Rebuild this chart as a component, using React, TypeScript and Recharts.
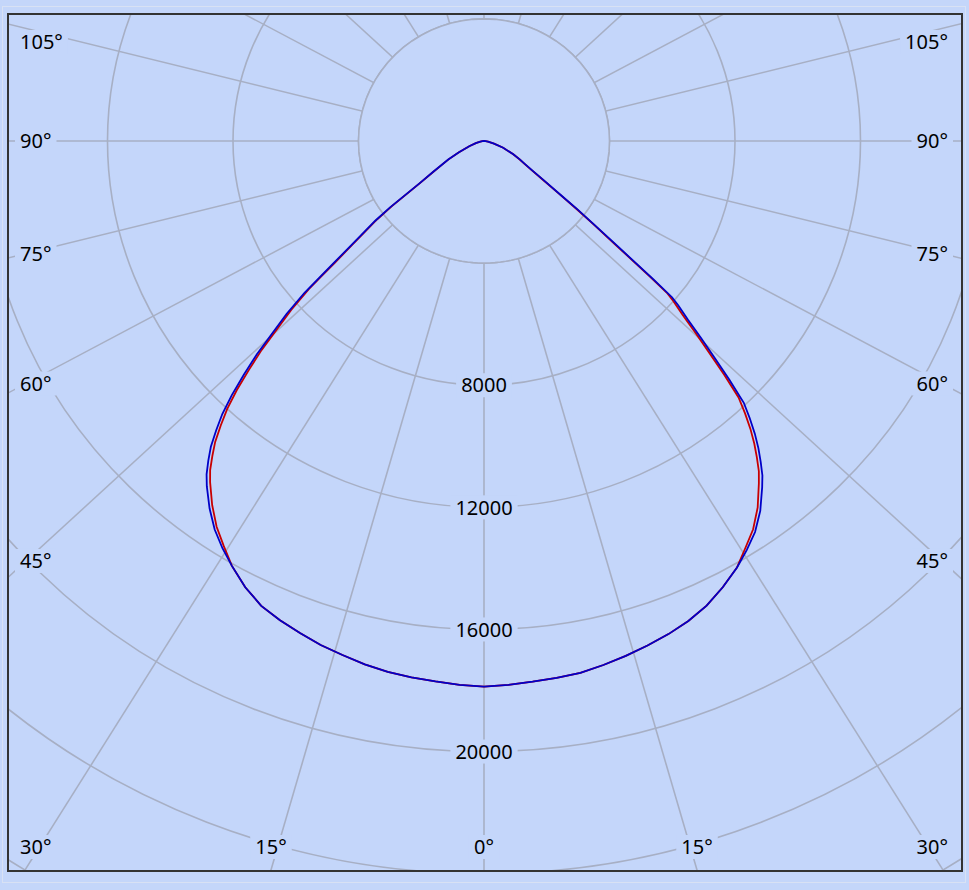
import { RadarChart, Radar, PolarGrid, PolarAngleAxis, PolarRadiusAxis } from 'recharts';

// gamma angles (deg from nadir) sampled for the lower hemisphere
const GAMMA = [
    0, 2.5, 5, 7.5, 10, 12.5, 15, 17.5, 20, 22.5, 25, 27.5, 30, 32, 34, 36, 38, 39, 40, 41, 42, 43, 44, 45, 46, 47, 48, 49,
    49.5, 50, 51, 52, 53, 54, 56, 58, 60, 62, 65, 70, 75, 80, 85, 90,
];

// intensities in cd, right half (C0 side)
const C0_BLUE = [
    17875, 17830, 17775, 17735, 17690, 17580, 17460, 17330, 17190, 17020, 16790, 16480, 16130, 15800, 15450, 14980, 14400,
    14100, 13720, 13330, 12900, 12420, 11920, 11060, 10200, 9450, 8740, 8200, 7880, 7050, 5490, 4510, 3740, 3080, 2280, 1800,
    1500, 1300, 1030, 650, 330, 130, 50, 0,
];
const C0_RED = [
    17875, 17830, 17775, 17735, 17690, 17580, 17460, 17330, 17190, 17020, 16790, 16480, 16130, 15720, 15340, 14840, 14230,
    13920, 13530, 13130, 12690, 12200, 11680, 10820, 9970, 9230, 8530, 8000, 7690, 6870, 5350, 4400, 3660, 3020, 2240, 1780,
    1480, 1290, 1030, 650, 330, 130, 50, 0,
];

// left half (C180 side)
const C180_BLUE = [
    17875, 17830, 17770, 17720, 17660, 17560, 17430, 17310, 17150, 16990, 16800, 16480, 16070, 15730, 15350, 14880, 14350,
    14050, 13670, 13270, 12760, 12230, 11570, 10820, 10070, 9200, 8470, 7580, 6930, 6380, 5520, 4860, 4340, 3700, 2480, 1930,
    1540, 1290, 880, 500, 270, 120, 50, 0,
];
const C180_RED = [
    17875, 17830, 17770, 17720, 17660, 17560, 17430, 17310, 17150, 16990, 16800, 16480, 16070, 15650, 15240, 14740, 14180,
    13870, 13470, 13060, 12540, 12000, 11340, 10590, 9850, 8990, 8270, 7400, 6800, 6220, 5400, 4760, 4260, 3640, 2440, 1900,
    1520, 1280, 880, 500, 270, 120, 50, 0,
];

// upper hemisphere, no light emitted
const UPPER_ANGLES = [
    95, 100, 105, 110, 115, 120, 125, 130, 135, 140, 145, 150, 155, 160, 165, 170, 175, 180, 185, 190, 195, 200, 205, 210,
    215, 220, 225, 230, 235, 240, 245, 250, 255, 260, 265,
];

const SPOKE_ANGLES = [0, 15, 30, 45, 60, 75, 90, 105, 120, 135, 150, 165, 180, 195, 210, 225, 240, 255, 270, 285, 300, 315, 330, 345];
const RING_VALUES = [4000, 8000, 12000, 16000, 20000, 24000, 28000, 32000];
const LABELED_RINGS = [8000, 12000, 16000, 20000];
const HOLE_CD = 4000;

type Row = { angle: number; blue: number; red: number; hole: number };

const rows: Row[] = [];
GAMMA.forEach((g, i) => rows.push({ angle: g, blue: C0_BLUE[i], red: C0_RED[i], hole: HOLE_CD }));
UPPER_ANGLES.forEach((a) => rows.push({ angle: a, blue: 0, red: 0, hole: HOLE_CD }));
for (let i = GAMMA.length - 1; i >= 1; i--) {
    rows.push({ angle: 360 - GAMMA[i], blue: C180_BLUE[i], red: C180_RED[i], hole: HOLE_CD });
}

const spokeRows = SPOKE_ANGLES.map((g) => ({ gamma: g }));

const BG = '#c4d6fa';
const GRID = '#a7afc4';
const FONT = '"Noto Sans", "DejaVu Sans", sans-serif';
const FONT_SIZE = 20;

// plot frame (inner size) and pole position inside it
const W = 952;
const H = 855;
const CX = 475;
const CY = 126;
const PAD = 80;
const R_TOP = 1004; // 32000 cd
// the source draws rings and spokes with slightly different aspect
const RING_SQUASH = 0.973;
const SPOKE_SQUASH = 0.917;

const textWidth = (s: string) =>
    s.replace('°', '').length * 11.45 + (s.includes('°') ? 8.6 : 0);

function AngleTick(props: any) {
    const a = Number(props.payload?.value);
    const rad = (a * Math.PI) / 180;
    const dx = Math.sin(rad);
    const dy = Math.cos(rad) * SPOKE_SQUASH;
    const tx = dx > 1e-6 ? (W - 19 - CX) / dx : dx < -1e-6 ? (17 - CX) / dx : Infinity;
    const ty = dy > 1e-6 ? (H - CY) / dy : dy < -1e-6 ? (0 - CY) / dy : Infinity;
    const label = `${a <= 180 ? a : 360 - a}°`;
    const w = textWidth(label);
    let x: number;
    let y: number;
    let anchor: 'start' | 'middle' | 'end';
    if (ty < tx) {
        if (dy < 0) return <g />;
        x = Math.min(Math.max(CX + dx * ty, 11 + w / 2), W - 13 - w / 2);
        y = H - 23;
        anchor = 'middle';
    } else {
        x = dx < 0 ? 11 : W - 13;
        y = Math.min(Math.max(CY + dy * tx, 27), H - 23);
        anchor = dx < 0 ? 'start' : 'end';
    }
    const yPre = CY + PAD + (y - CY) / RING_SQUASH;
    const rx = anchor === 'start' ? -5 : anchor === 'end' ? -w - 5 : -w / 2 - 5;
    return (
        <g transform={`translate(${x} ${yPre}) scale(1 ${1 / RING_SQUASH})`}>
            <rect x={rx} y={-12} width={w + 10} height={24} fill={BG} />
            <text x={0} y={0} dy="0.36em" textAnchor={anchor} fontSize={FONT_SIZE} fontFamily={FONT} fill="#000">
                {label}
            </text>
        </g>
    );
}

function RingTick(props: any) {
    const v = Number(props.payload?.value);
    if (!LABELED_RINGS.includes(v)) return <g />;
    const s = String(v);
    const w = textWidth(s);
    return (
        <g transform={`translate(${props.x} ${props.y}) scale(1 ${1 / RING_SQUASH})`}>
            <rect x={-w / 2 - 5} y={-12} width={w + 10} height={24} fill={BG} />
            <text x={0} y={0} dy="0.36em" textAnchor="middle" fontSize={FONT_SIZE} fontFamily={FONT} fill="#000">
                {s}
            </text>
        </g>
    );
}

const noMargin = { top: 0, right: 0, bottom: 0, left: 0 };

export default function App() {
    return (
        <div
            style={{
                position: 'fixed',
                left: 0,
                top: 0,
                width: 969,
                height: 890,
                background: BG,
                fontFamily: FONT,
            }}
        >
            <div
                style={{
                    position: 'absolute',
                    left: 2,
                    top: 6,
                    width: 964,
                    height: 877,
                    border: '1px solid #d8e1f4',
                    boxSizing: 'border-box',
                }}
            />
            <div
                style={{
                    position: 'absolute',
                    left: 7,
                    top: 13,
                    width: W + 4,
                    height: H + 4,
                    border: '2px solid #333',
                    boxSizing: 'border-box',
                    overflow: 'hidden',
                }}
            >
                {/* spokes */}
                <div
                    style={{
                        position: 'absolute',
                        left: 0,
                        top: -PAD,
                        transform: `scaleY(${SPOKE_SQUASH})`,
                        transformOrigin: `${CX}px ${CY + PAD}px`,
                    }}
                >
                    <RadarChart
                        width={W}
                        height={H + 2 * PAD}
                        cx={CX}
                        cy={CY + PAD}
                        outerRadius={1050}
                        startAngle={-90}
                        endAngle={270}
                        data={spokeRows}
                        margin={noMargin}
                    >
                        <PolarGrid gridType="circle" polarRadius={[0]} stroke={GRID} strokeWidth={1.6} />
                        <PolarAngleAxis dataKey="gamma" tick={false} axisLine={false} tickLine={false} />
                        <PolarRadiusAxis domain={[0, 1]} tick={false} axisLine={false} tickLine={false} />
                    </RadarChart>
                </div>

                {/* rings, curves, labels */}
                <div
                    style={{
                        position: 'absolute',
                        left: 0,
                        top: -PAD,
                        transform: `scaleY(${RING_SQUASH})`,
                        transformOrigin: `${CX}px ${CY + PAD}px`,
                    }}
                >
                    <RadarChart
                        width={W}
                        height={H + 2 * PAD}
                        cx={CX}
                        cy={CY + PAD}
                        outerRadius={R_TOP}
                        startAngle={-90}
                        endAngle={270}
                        data={rows}
                        margin={noMargin}
                    >
                        <PolarGrid gridType="circle" radialLines={false} stroke={GRID} strokeWidth={1.6} />
                        <PolarAngleAxis
                            dataKey="angle"
                            type="number"
                            domain={[0, 360]}
                            ticks={SPOKE_ANGLES}
                            tick={AngleTick}
                            axisLine={false}
                            tickLine={false}
                        />
                        <PolarRadiusAxis
                            angle={-90}
                            type="number"
                            domain={[0, 32000]}
                            ticks={RING_VALUES}
                            tick={RingTick}
                            axisLine={false}
                            tickLine={false}
                        />
                        <Radar
                            dataKey="hole"
                            stroke={GRID}
                            strokeWidth={1.6}
                            fill={BG}
                            fillOpacity={1}
                            dot={false}
                            isAnimationActive={false}
                        />
                        <Radar
                            dataKey="red"
                            stroke="#c80000"
                            strokeWidth={1.8}
                            fill="none"
                            dot={false}
                            isAnimationActive={false}
                        />
                        <Radar
                            dataKey="blue"
                            stroke="#0000c8"
                            strokeWidth={1.8}
                            fill="none"
                            dot={false}
                            isAnimationActive={false}
                        />
                    </RadarChart>
                </div>
            </div>
        </div>
    );
}
